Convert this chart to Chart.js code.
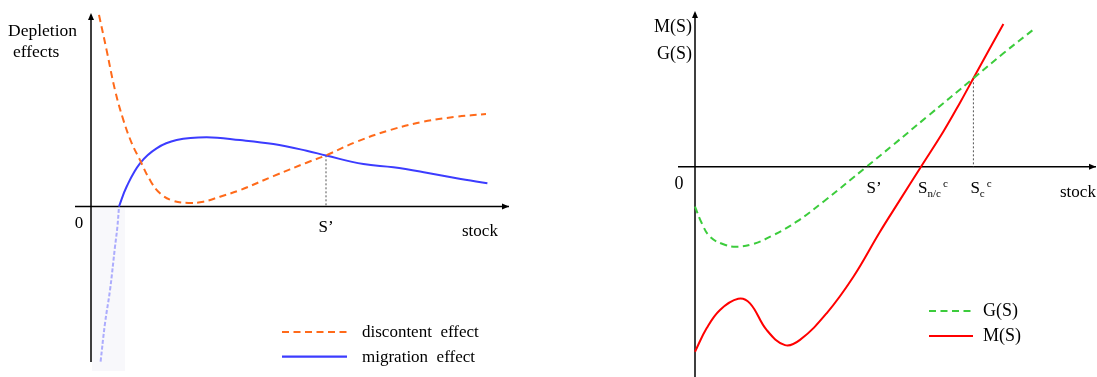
<!DOCTYPE html>
<html>
<head>
<meta charset="utf-8">
<script src="https://cdn.jsdelivr.net/npm/chart.js@4.4.1/dist/chart.umd.min.js"></script>
<style>
    html, body { margin: 0; padding: 0; background: #fff; }
    #wrap { position: relative; width: 1097px; height: 377px; overflow: hidden; }
    canvas { position: absolute; top: 0; }
    #left { left: 0; }
    #right { left: 548px; }
</style>
</head>
<body>
<div id="wrap">
    <canvas id="left" width="548" height="377"></canvas>
    <canvas id="right" width="549" height="377"></canvas>
</div>
<script>
// Left panel: depletion effects against stock
const discontentX = [0.2, 0.39, 0.6, 0.81, 1.02, 1.225, 1.475, 1.725, 2.06, 2.43, 2.81, 3.225, 3.725, 4.56, 5.39, 5.875, 6.64, 7.475, 8.31, 9.14, 9.875];
const discontentY = [4.79, 3.91, 2.91, 2.16, 1.58, 1.16, 0.66, 0.33, 0.14, 0.09, 0.12, 0.245, 0.41, 0.76, 1.095, 1.28, 1.62, 1.91, 2.12, 2.245, 2.31];
const migrationX = [0.7, 0.89, 1.225, 1.64, 2.14, 2.89, 3.725, 4.56, 5.39, 5.875, 6.81, 7.56, 8.39, 9.14, 9.91];
const migrationY = [0, 0.495, 1.08, 1.455, 1.66, 1.73, 1.66, 1.56, 1.395, 1.275, 1.06, 0.98, 0.845, 0.705, 0.58];
// part of the migration curve below zero, drawn faint
const migrationLowX = [0.24, 0.35, 0.475, 0.6, 0.66, 0.7];
const migrationLowY = [-3.88, -2.92, -2.09, -1.005, -0.505, 0];
const sPrimeLeft = 5.875;   // where the two effects cross
const sPrimeLeftY = 1.28;

// Right panel: M(S) and G(S) against stock
const gX = [0, 0.17, 0.375, 0.71, 1.04, 1.46, 1.96, 2.54, 3.21, 4.29, 4.96, 5.79, 6.96, 7.71, 8.5];
const gY = [-1.0, -1.415, -1.75, -1.94, -2.0, -1.93, -1.71, -1.375, -0.875, 0, 0.55, 1.24, 2.21, 2.835, 3.46];
const mX = [0, 0.29, 0.625, 1.08, 1.375, 1.79, 2.25, 2.625, 3.29, 3.96, 4.625, 5.125, 5.65, 6.21, 6.625, 6.96, 7.71];
const mY = [-4.625, -4.04, -3.58, -3.3, -3.415, -4.08, -4.46, -4.33, -3.665, -2.75, -1.625, -0.83, 0, 0.88, 1.6, 2.21, 3.57];
const sPrimeRight = 4.29;
const sNC = 5.65;
const sC = 6.96;
const sCY = 2.21;

const SERIF = "'Liberation Serif', 'DejaVu Serif', serif";

function pts(xs, ys) {
    return xs.map((x, i) => ({ x: x, y: ys[i] }));
}

function arrowHead(ctx, x, y, dir) {
    ctx.beginPath();
    if (dir === 'right') {
        ctx.moveTo(x, y); ctx.lineTo(x - 7, y - 3); ctx.lineTo(x - 7, y + 3);
    } else {
        ctx.moveTo(x, y); ctx.lineTo(x - 3, y + 7); ctx.lineTo(x + 3, y + 7);
    }
    ctx.closePath();
    ctx.fill();
}

// S with optional subscript / superscript
function drawS(ctx, x, y, sub, sup) {
    ctx.font = '17px ' + SERIF;
    ctx.fillText('S', x, y);
    const w = ctx.measureText('S').width;
    ctx.font = '11px ' + SERIF;
    let sw = 0;
    if (sub) {
        ctx.fillText(sub, x + w, y + 4);
        sw = ctx.measureText(sub).width;
    }
    if (sup) ctx.fillText(sup, x + w + sw + 2, y - 6);
}

// axes, dotted guides, labels and the little legend
function frame(opts) {
    return {
        id: 'frame',
        beforeDatasetsDraw(chart) {
            const { ctx, chartArea } = chart;
            const x0 = chart.scales.x.getPixelForValue(0);
            const y0 = chart.scales.y.getPixelForValue(0);
            ctx.save();
            if (opts.shade) {
                ctx.fillStyle = '#f8f8fb';
                ctx.fillRect(x0 + 1, y0 + 1, 33, chartArea.bottom - y0 + 8);
            }
            ctx.strokeStyle = '#000';
            ctx.fillStyle = '#000';
            ctx.lineWidth = 1.5;
            ctx.beginPath();
            ctx.moveTo(x0 - opts.xStartOff, y0);
            ctx.lineTo(opts.xEnd, y0);
            ctx.moveTo(x0, opts.yBottom);
            ctx.lineTo(x0, chartArea.top);
            ctx.stroke();
            arrowHead(ctx, opts.xEnd, y0, 'right');
            arrowHead(ctx, x0, chartArea.top - 2, 'up');

            // dotted drop line
            ctx.strokeStyle = '#555';
            ctx.lineWidth = 1;
            ctx.setLineDash([2, 2]);
            const dx = chart.scales.x.getPixelForValue(opts.dropX);
            ctx.beginPath();
            ctx.moveTo(dx, chart.scales.y.getPixelForValue(opts.dropY));
            ctx.lineTo(dx, y0);
            ctx.stroke();
            ctx.restore();
        },
        afterDraw(chart) {
            const { ctx } = chart;
            const x0 = chart.scales.x.getPixelForValue(0);
            const y0 = chart.scales.y.getPixelForValue(0);
            ctx.save();
            ctx.fillStyle = '#000';
            ctx.textBaseline = 'alphabetic';
            opts.labels(ctx, chart, x0, y0);

            // legend
            const shown = chart.data.datasets.filter(d => d.label);
            shown.forEach((d, i) => {
                const ly = opts.legend.y + i * opts.legend.gap;
                ctx.strokeStyle = d.borderColor;
                ctx.lineWidth = 2.2;
                ctx.setLineDash(d.borderDash || []);
                ctx.beginPath();
                ctx.moveTo(opts.legend.x, ly);
                ctx.lineTo(opts.legend.x + opts.legend.len, ly);
                ctx.stroke();
                ctx.setLineDash([]);
                ctx.font = opts.legend.font + ' ' + SERIF;
                ctx.fillText(d.label, opts.legend.x + opts.legend.len + opts.legend.pad, ly + 5);
            });
            ctx.restore();
        }
    };
}

const common = {
    responsive: false,
    animation: false,
    events: [],
    elements: { point: { radius: 0 }, line: { borderWidth: 2, tension: 0.4 } },
    plugins: { legend: { display: false }, tooltip: { enabled: false } }
};

new Chart(document.getElementById('left'), {
    type: 'line',
    data: {
        datasets: [
            {
                label: 'discontent  effect',
                data: pts(discontentX, discontentY),
                borderColor: '#ff6a1a',
                borderDash: [7, 4.5],
                clip: false
            },
            {
                label: 'migration  effect',
                data: pts(migrationX, migrationY),
                borderColor: '#3c3cff',
                clip: false
            },
            {
                label: '',
                data: pts(migrationLowX, migrationLowY),
                borderColor: 'rgba(110,110,255,0.55)',
                borderDash: [4, 2],
                clip: false
            }
        ]
    },
    options: {
        ...common,
        layout: { padding: { left: 91, right: 57, top: 15, bottom: 15 } },
        scales: {
            x: { type: 'linear', min: 0, max: 10, display: false },
            y: { type: 'linear', min: -3.8875, max: 4.7875, display: false }
        }
    },
    plugins: [frame({
        xStartOff: 16,
        xEnd: 509,
        yBottom: 362,
        shade: true,
        dropX: sPrimeLeft,
        dropY: sPrimeLeftY,
        legend: { x: 282, y: 332, gap: 24.7, len: 65, pad: 15, font: '17px' },
        labels(ctx, chart, x0, y0) {
            ctx.font = '17.5px ' + SERIF;
            ctx.fillText('Depletion', 8, 36);
            ctx.fillText('effects', 13, 57);
            ctx.font = '17px ' + SERIF;
            ctx.textAlign = 'center';
            ctx.fillText('0', x0 - 12, y0 + 21);
            ctx.fillText('S\u2019', chart.scales.x.getPixelForValue(sPrimeLeft), y0 + 25);
            ctx.textAlign = 'left';
            ctx.fillText('stock', 462, y0 + 29);
        }
    })]
});

new Chart(document.getElementById('right'), {
    type: 'line',
    data: {
        datasets: [
            {
                label: 'G(S)',
                data: pts(gX, gY),
                borderColor: '#3ccc3c',
                borderDash: [7, 4.5],
                clip: false
            },
            {
                label: 'M(S)',
                data: pts(mX, mY),
                borderColor: '#ff0000',
                clip: false
            }
        ]
    },
    options: {
        ...common,
        layout: { padding: { left: 147, right: 2, top: 13, bottom: 0 } },
        scales: {
            x: { type: 'linear', min: 0, max: 10, display: false },
            y: { type: 'linear', min: -5.2575, max: 3.8425, display: false }
        }
    },
    plugins: [frame({
        xStartOff: 17,
        xEnd: 548,
        yBottom: 377,
        shade: false,
        dropX: sC,
        dropY: sCY,
        legend: { x: 381, y: 311, gap: 25, len: 44, pad: 10, font: '18px' },
        labels(ctx, chart, x0, y0) {
            const sx = v => chart.scales.x.getPixelForValue(v);
            ctx.font = '18px ' + SERIF;
            ctx.textAlign = 'right';
            ctx.fillText('M(S)', x0 - 3, 32);
            ctx.fillText('G(S)', x0 - 3, 59);
            ctx.textAlign = 'center';
            ctx.fillText('0', x0 - 16, y0 + 22);
            ctx.textAlign = 'left';
            ctx.font = '17px ' + SERIF;
            ctx.fillText('S\u2019', sx(sPrimeRight) + 0, y0 + 26);
            drawS(ctx, sx(sNC) - 3, y0 + 26, 'n/c', 'c');
            drawS(ctx, sx(sC) - 3, y0 + 26, 'c', 'c');
            ctx.font = '17px ' + SERIF;
            ctx.fillText('stock', 512, y0 + 30);
        }
    })]
});
</script>
</body>
</html>
